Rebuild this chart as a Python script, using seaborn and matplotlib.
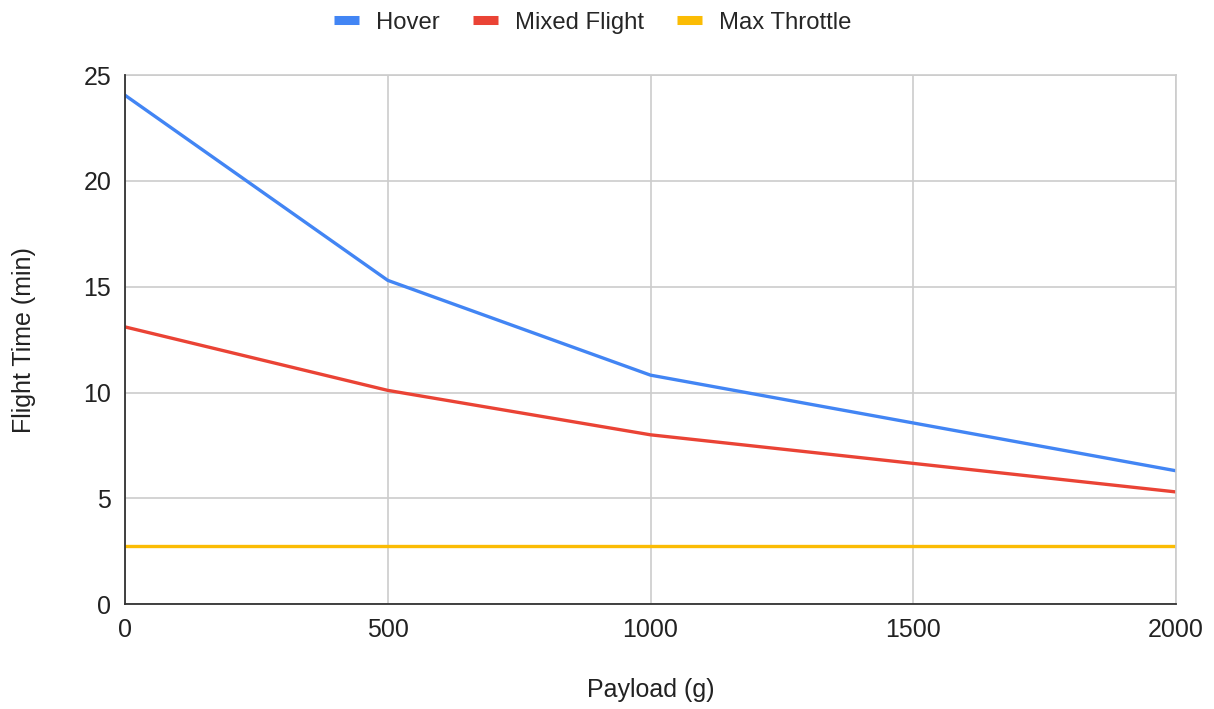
import matplotlib
matplotlib.use("Agg")
import matplotlib.pyplot as plt
import seaborn as sns
import pandas as pd

payload = [0, 500, 1000, 2000]
hover = [24.05, 15.3, 10.82, 6.3]
mixed_flight = [13.1, 10.1, 8.0, 5.3]
max_throttle = [2.75, 2.75, 2.75, 2.75]

series = ["Hover", "Mixed Flight", "Max Throttle"]
colors = {"Hover": "#4285F4", "Mixed Flight": "#EA4335", "Max Throttle": "#FBBC04"}

df = pd.concat([
    pd.DataFrame({"payload": payload, "time": vals, "series": name})
    for name, vals in zip(series, [hover, mixed_flight, max_throttle])
])

sns.set_theme(style="whitegrid")
plt.rcParams["font.family"] = ["Liberation Sans", "DejaVu Sans"]

fig = plt.figure(figsize=(12.14, 7.09), dpi=100)
ax = fig.add_axes([0.103, 0.148, 0.8657, 0.746])

sns.lineplot(data=df, x="payload", y="time", hue="series", hue_order=series,
             palette=colors, linewidth=2.4, ax=ax, legend=False)

ax.set_xlim(0, 2000)
ax.set_ylim(0, 25)
ax.set_xticks([0, 500, 1000, 1500, 2000])
ax.set_yticks([0, 5, 10, 15, 20, 25])
ax.tick_params(axis="both", labelsize=18, colors="#222222", length=0)
ax.tick_params(axis="y", pad=10)
ax.tick_params(axis="x", pad=10)
ax.grid(True, color="#cccccc", linewidth=1.2)
for s in ["top", "right"]:
    ax.spines[s].set_color("#cccccc")
    ax.spines[s].set_linewidth(1.2)
for s in ["left", "bottom"]:
    ax.spines[s].set_color("#333333")
    ax.spines[s].set_linewidth(1.3)
    ax.spines[s].set_zorder(5)

ax.set_xlabel("Payload (g)", fontsize=18, color="#222222", labelpad=26)
ax.set_ylabel("Flight Time (min)", fontsize=18, color="#222222", labelpad=34)

handles = [plt.Line2D([0], [0], color=colors[s], linewidth=6.5,
                      solid_capstyle="butt") for s in series]
fig.legend(handles, series, loc="center", bbox_to_anchor=(0.488, 0.968), ncol=3,
           frameon=False, fontsize=17.2, handlelength=1.05, handletextpad=0.7,
           columnspacing=1.4)

fig.savefig("out.png", dpi=100)
